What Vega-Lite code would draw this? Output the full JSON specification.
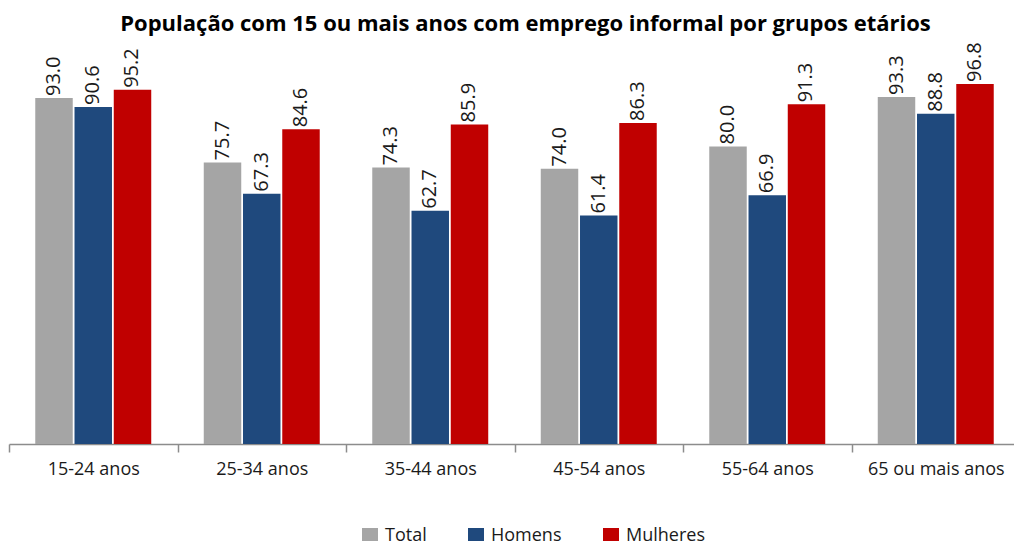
{
  "$schema": "https://vega.github.io/schema/vega-lite/v6.json",
  "autosize": {"type": "none"},
  "width": 1005,
  "height": 372,
  "padding": {"left": 9, "top": 72, "right": 0, "bottom": 97},
  "background": "white",
  "title": {
    "text": "População com 15 ou mais anos com emprego informal por grupos etários",
    "font": "Open Sans",
    "fontSize": 22,
    "fontWeight": "bold",
    "color": "#000000",
    "anchor": "middle",
    "dx": 14,
    "offset": 6
  },
  "data": {
    "values": [
      {"grupo": "15-24 anos", "serie": "Total", "valor": 93.0},
      {"grupo": "15-24 anos", "serie": "Homens", "valor": 90.6},
      {"grupo": "15-24 anos", "serie": "Mulheres", "valor": 95.2},
      {"grupo": "25-34 anos", "serie": "Total", "valor": 75.7},
      {"grupo": "25-34 anos", "serie": "Homens", "valor": 67.3},
      {"grupo": "25-34 anos", "serie": "Mulheres", "valor": 84.6},
      {"grupo": "35-44 anos", "serie": "Total", "valor": 74.3},
      {"grupo": "35-44 anos", "serie": "Homens", "valor": 62.7},
      {"grupo": "35-44 anos", "serie": "Mulheres", "valor": 85.9},
      {"grupo": "45-54 anos", "serie": "Total", "valor": 74.0},
      {"grupo": "45-54 anos", "serie": "Homens", "valor": 61.4},
      {"grupo": "45-54 anos", "serie": "Mulheres", "valor": 86.3},
      {"grupo": "55-64 anos", "serie": "Total", "valor": 80.0},
      {"grupo": "55-64 anos", "serie": "Homens", "valor": 66.9},
      {"grupo": "55-64 anos", "serie": "Mulheres", "valor": 91.3},
      {"grupo": "65 ou mais anos", "serie": "Total", "valor": 93.3},
      {"grupo": "65 ou mais anos", "serie": "Homens", "valor": 88.8},
      {"grupo": "65 ou mais anos", "serie": "Mulheres", "valor": 96.8}
    ]
  },
  "encoding": {
    "x": {
      "field": "grupo",
      "type": "nominal",
      "sort": null,
      "scale": {"range": [0, 1011], "paddingInner": 0, "paddingOuter": 0},
      "axis": {
        "title": null,
        "labelAngle": 0,
        "labelFont": "Open Sans",
        "labelFontSize": 18,
        "labelColor": "#1a1a1a",
        "labelPadding": 8,
        "tickBand": "extent",
        "tickSize": 8,
        "tickColor": "#8c8c8c",
        "tickWidth": 1.5,
        "domainColor": "#8c8c8c",
        "domainWidth": 1.5
      }
    },
    "xOffset": {
      "field": "serie",
      "type": "nominal",
      "sort": ["Total", "Homens", "Mulheres"],
      "scale": {"paddingInner": 0.045, "paddingOuter": 0.669}
    },
    "y": {
      "field": "valor",
      "type": "quantitative",
      "scale": {"domain": [0, 100], "nice": false},
      "axis": null
    }
  },
  "layer": [
    {
      "mark": {"type": "bar"},
      "encoding": {
        "color": {
          "field": "serie",
          "type": "nominal",
          "sort": ["Total", "Homens", "Mulheres"],
          "scale": {"domain": ["Total", "Homens", "Mulheres"], "range": ["#A5A5A5", "#1F497D", "#C00000"]},
          "legend": {
            "title": null,
            "orient": "none",
            "direction": "horizontal",
            "legendX": 352,
            "legendY": 455,
            "symbolType": "square",
            "symbolSize": 256,
            "symbolStrokeWidth": 0,
            "labelFont": "Open Sans",
            "labelFontSize": 18,
            "labelColor": "#1a1a1a",
            "labelOffset": 6,
            "columnPadding": 40
          }
        }
      }
    },
    {
      "mark": {
        "type": "text",
        "angle": -90,
        "align": "left",
        "baseline": "middle",
        "dx": 2,
        "font": "Open Sans",
        "fontSize": 20,
        "color": "#1a1a1a"
      },
      "encoding": {
        "text": {"field": "valor", "type": "quantitative", "format": ".1f"}
      }
    }
  ],
  "config": {"view": {"stroke": null}}
}
